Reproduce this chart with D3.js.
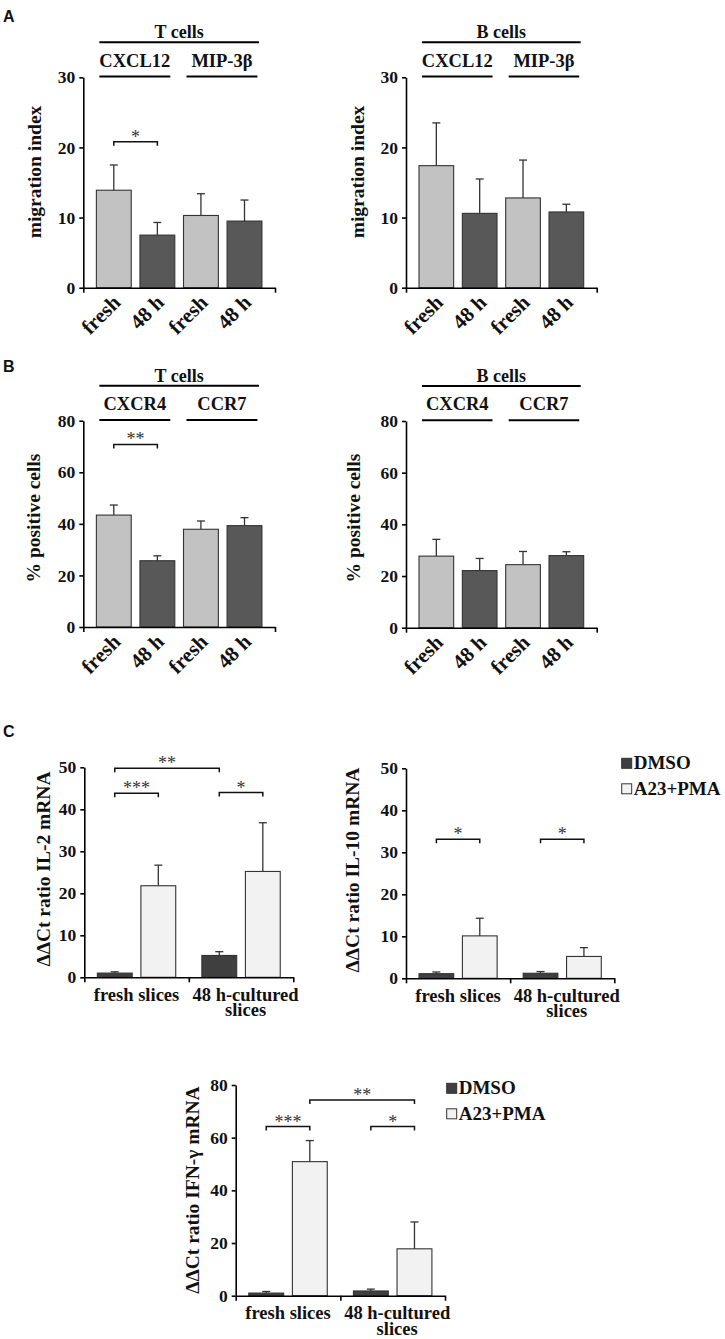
<!DOCTYPE html>
<html>
<head>
<meta charset="utf-8">
<script src="https://cdn.jsdelivr.net/npm/d3@7"></script>
<style>
  body { margin: 0; background: #fff; }
  svg text { font-family: 'Liberation Serif', 'Times New Roman', serif; font-weight: bold; fill: #111; }
</style>
</head>
<body>
<svg id="fig" width="725" height="1339"></svg>
<script>
// ---- datos ----
const barLabels = ["fresh", "48 h", "fresh", "48 h"];
const barTones = ["light", "dark", "light", "dark"];

// A: migration index
const migrationTicks = [0, 10, 20, 30];
const migrationT = [13.9, 7.5, 10.3, 9.5];
const migrationTErr = [3.6, 1.8, 3.1, 3.0];
const migrationB = [17.4, 10.6, 12.8, 10.8];
const migrationBErr = [6.1, 4.9, 5.4, 1.1];
const chemokinesA = ["CXCL12", "MIP-3β"];

// B: % positive cells
const positiveTicks = [0, 20, 40, 60, 80];
const positiveT = [43.4, 25.7, 37.9, 39.3];
const positiveTErr = [3.9, 1.9, 3.2, 3.1];
const positiveB = [27.7, 22.1, 24.4, 27.9];
const positiveBErr = [6.5, 4.7, 5.1, 1.5];
const receptorsB = ["CXCR4", "CCR7"];

// C: mRNA
const sliceGroups = [["fresh slices"], ["48 h-cultured", "slices"]];
const treatments = ["DMSO", "A23+PMA"];
const il2Ticks = [0, 10, 20, 30, 40, 50];
const il2Dmso = [1.0, 5.2];
const il2DmsoErr = [0.3, 0.9];
const il2A23 = [21.8, 25.2];
const il2A23Err = [4.9, 11.6];
const il10Dmso = [1.1, 1.2];
const il10DmsoErr = [0.4, 0.4];
const il10A23 = [10.1, 5.2];
const il10A23Err = [4.2, 2.1];
const ifnTicks = [0, 20, 40, 60, 80];
const ifnDmso = [1.0, 1.8];
const ifnDmsoErr = [0.6, 0.7];
const ifnA23 = [50.9, 17.8];
const ifnA23Err = [8.0, 10.2];

// significancia: [barra desde, barra hasta, valor y, etiqueta]
const sigMigT = [[0, 1, 20.8, "*"]];
const sigPosT = [[0, 1, 70.8, "**"]];
const sigIl2 = [[0, 2, 49.8, "**"], [0, 1, 43.8, "***"], [2, 3, 44.0, "*"]];
const sigIl10 = [[0, 1, 33.1, "*"], [2, 3, 33.1, "*"]];
const sigIfn = [[1, 3, 74.3, "**"], [0, 1, 64.2, "***"], [2, 3, 64.2, "*"]];

const tones = { light: "#c2c2c2", dark: "#585858", dmso: "#3f3f3f", a23: "#f2f2f2" };

const svg = d3.select("#fig");

// letras de panel
[["A", 3, 21.5], ["B", 3, 372], ["C", 3, 737]].forEach(([t, x, y]) => {
  svg.append("text").attr("x", x).attr("y", y)
    .style("font-family", "'Liberation Sans', Arial, sans-serif")
    .style("font-size", "16px").text(t);
});

function drawAxes(g, y, ticks, x0, x1, y0, nDiv) {
  const yAxis = g.append("g")
    .attr("transform", `translate(${x0},0)`)
    .call(d3.axisLeft(y).tickValues(ticks).tickSize(4).tickSizeOuter(0).tickPadding(4));
  yAxis.selectAll("text").style("font-size", "17.5px");

  const xb = d3.scaleLinear().domain([0, nDiv]).range([x0, x1]);
  g.append("g")
    .attr("transform", `translate(0,${y0})`)
    .call(d3.axisBottom(xb).tickValues(nDiv === 2 ? [0, 1, 2] : [0, nDiv]).tickFormat("").tickSize(5).tickSizeOuter(0));

  g.selectAll(".domain, .tick line").attr("stroke", "#000").attr("stroke-width", 1.6);
}

function drawErrors(g, items) {
  // items: {cx, top, err}
  const e = g.append("g").attr("stroke", "#333").attr("stroke-width", 1.3);
  items.forEach(d => {
    e.append("line").attr("x1", d.cx).attr("x2", d.cx).attr("y1", d.top).attr("y2", d.err);
    e.append("line").attr("x1", d.cx - 4).attr("x2", d.cx + 4).attr("y1", d.err).attr("y2", d.err);
  });
}

function drawSig(g, sigs, centers, y) {
  sigs.forEach(([a, b, v, lab]) => {
    const yy = y(v);
    g.append("path")
      .attr("d", `M${centers[a]},${yy + 4}V${yy}H${centers[b]}V${yy + 4}`)
      .attr("fill", "none").attr("stroke", "#111").attr("stroke-width", 1.5);
    g.append("text")
      .attr("x", (centers[a] + centers[b]) / 2).attr("y", yy + 1)
      .attr("text-anchor", "middle")
      .style("font-size", "18px").style("font-weight", "normal").style("fill", "#333")
      .text(lab);
  });
}

function yTitle(g, text, cx, cy) {
  g.append("text")
    .attr("transform", `translate(${cx},${cy}) rotate(-90)`)
    .attr("text-anchor", "middle").attr("dominant-baseline", "central")
    .style("font-size", "19.5px")
    .text(text);
}

// ---- paneles A y B ----
function drawCellPanel(cfg) {
  const g = svg.append("g");
  const y = d3.scaleLinear().domain([0, d3.max(cfg.ticks)]).range([cfg.y0, cfg.yTop]);
  const x = d3.scaleBand().domain(d3.range(cfg.values.length))
    .range([cfg.x0, cfg.x1]).paddingInner(0.2).paddingOuter(0.3);
  const centers = cfg.values.map((v, i) => x(i) + x.bandwidth() / 2);

  g.selectAll(".bar").data(cfg.values).enter().append("rect")
    .attr("x", (d, i) => x(i))
    .attr("y", d => y(d))
    .attr("width", x.bandwidth())
    .attr("height", d => cfg.y0 - y(d))
    .attr("fill", (d, i) => tones[barTones[i]])
    .attr("stroke", "#333").attr("stroke-width", 1.1);

  drawErrors(g, cfg.values.map((v, i) => ({ cx: centers[i], top: y(v), err: y(v + cfg.errors[i]) })));
  drawAxes(g, y, cfg.ticks, cfg.x0, cfg.x1, cfg.y0, 4);

  // etiquetas rotadas
  barLabels.forEach((lab, i) => {
    g.append("text")
      .attr("transform", `translate(${centers[i] + 8},${cfg.y0 + 16}) rotate(-45)`)
      .attr("text-anchor", "end")
      .style("font-size", "21px")
      .text(lab);
  });

  // cabeceras
  const left = x(0) + 3, right = x(3) + x.bandwidth() - 3;
  g.append("line").attr("x1", left).attr("x2", right)
    .attr("y1", cfg.yTop - 35).attr("y2", cfg.yTop - 35)
    .attr("stroke", "#000").attr("stroke-width", 2);
  g.append("text").attr("x", (left + right) / 2).attr("y", cfg.yTop - 39)
    .attr("text-anchor", "middle").style("font-size", "18px").text(cfg.group);
  cfg.subgroups.forEach((s, k) => {
    const l = x(2 * k) + 3, r = x(2 * k + 1) + x.bandwidth() - 4.5;
    g.append("line").attr("x1", l).attr("x2", r)
      .attr("y1", cfg.yTop - 0.7).attr("y2", cfg.yTop - 0.7)
      .attr("stroke", "#000").attr("stroke-width", 2);
    g.append("text").attr("x", (l + r) / 2).attr("y", cfg.yTop - 10.6)
      .attr("text-anchor", "middle").style("font-size", "18.5px").text(s);
  });

  if (cfg.sig) drawSig(g, cfg.sig, centers, y);
  yTitle(g, cfg.title, cfg.titleX, cfg.titleY);
}

drawCellPanel({ x0: 83.3, x1: 275, yTop: 77.3, y0: 287.7, ticks: migrationTicks,
  values: migrationT, errors: migrationTErr, group: "T cells", subgroups: chemokinesA,
  sig: sigMigT, title: "migration index", titleX: 34, titleY: 172 });
drawCellPanel({ x0: 406, x1: 596.7, yTop: 77.3, y0: 287.7, ticks: migrationTicks,
  values: migrationB, errors: migrationBErr, group: "B cells", subgroups: chemokinesA,
  title: "migration index", titleX: 357, titleY: 172 });
drawCellPanel({ x0: 83.3, x1: 275, yTop: 420.7, y0: 627, ticks: positiveTicks,
  values: positiveT, errors: positiveTErr, group: "T cells", subgroups: receptorsB,
  sig: sigPosT, title: "% positive cells", titleX: 33, titleY: 518 });
drawCellPanel({ x0: 406, x1: 596.7, yTop: 421, y0: 627.7, ticks: positiveTicks,
  values: positiveB, errors: positiveBErr, group: "B cells", subgroups: receptorsB,
  title: "% positive cells", titleX: 353, titleY: 518 });

// ---- panel C ----
function drawMrnaPanel(cfg) {
  const g = svg.append("g");
  const y = d3.scaleLinear().domain([0, d3.max(cfg.ticks)]).range([cfg.y0, cfg.yTop]);
  const x0 = d3.scaleBand().domain(d3.range(sliceGroups.length)).range([cfg.x0, cfg.x1]);
  const x1 = d3.scaleBand().domain(treatments).range([0, x0.bandwidth()])
    .paddingInner(0.2).paddingOuter(0.3);

  const rows = [];
  sliceGroups.forEach((sg, gi) => {
    rows.push({ gi, t: "DMSO", v: cfg.dmso[gi], e: cfg.dmsoErr[gi], fill: tones.dmso });
    rows.push({ gi, t: "A23+PMA", v: cfg.a23[gi], e: cfg.a23Err[gi], fill: tones.a23 });
  });
  const cx = d => x0(d.gi) + x1(d.t) + x1.bandwidth() / 2;
  const centers = rows.map(cx);

  g.selectAll(".bar").data(rows).enter().append("rect")
    .attr("x", d => x0(d.gi) + x1(d.t))
    .attr("y", d => y(d.v))
    .attr("width", x1.bandwidth())
    .attr("height", d => cfg.y0 - y(d.v))
    .attr("fill", d => d.fill)
    .attr("stroke", "#333").attr("stroke-width", 1.1);

  drawErrors(g, rows.map(d => ({ cx: cx(d), top: y(d.v), err: y(d.v + d.e) })));
  drawAxes(g, y, cfg.ticks, cfg.x0, cfg.x1, cfg.y0, 2);

  // etiquetas de grupo (la de dos lineas va algo corrida a la derecha)
  sliceGroups.forEach((lines, gi) => {
    const mx = x0(gi) + x0.bandwidth() / 2 + (lines.length > 1 ? 4.5 : 0);
    const t = g.append("text")
      .attr("x", mx).attr("y", cfg.y0 + 23.5)
      .attr("text-anchor", "middle").style("font-size", "18.5px");
    lines.forEach((ln, k) => {
      t.append("tspan").attr("x", mx)
        .attr("dy", k === 0 ? 0 : 15.5).text(ln);
    });
  });

  drawSig(g, cfg.sig, centers, y);
  yTitle(g, cfg.title, cfg.titleX, cfg.titleY);

  if (cfg.legend) {
    const lg = g.append("g").attr("transform", `translate(${cfg.legend[0]},${cfg.legend[1]})`);
    treatments.forEach((t, i) => {
      lg.append("rect").attr("x", 0).attr("y", i * 25.5).attr("width", 10).attr("height", 10)
        .attr("fill", i === 0 ? tones.dmso : tones.a23).attr("stroke", "#333").attr("stroke-width", 1);
      lg.append("text").attr("x", 12).attr("y", i * 25.5 + 11)
        .style("font-size", "19px").text(t);
    });
  }
}

drawMrnaPanel({ x0: 84.3, x1: 293.3, yTop: 767.3, y0: 977.3, ticks: il2Ticks,
  dmso: il2Dmso, dmsoErr: il2DmsoErr, a23: il2A23, a23Err: il2A23Err, sig: sigIl2,
  title: "ΔΔCt ratio IL-2 mRNA", titleX: 43, titleY: 869 });
drawMrnaPanel({ x0: 406, x1: 614.3, yTop: 768.3, y0: 978.3, ticks: il2Ticks,
  dmso: il10Dmso, dmsoErr: il10DmsoErr, a23: il10A23, a23Err: il10A23Err, sig: sigIl10,
  title: "ΔΔCt ratio IL-10 mRNA", titleX: 352, titleY: 870, legend: [621.7, 758.3] });
drawMrnaPanel({ x0: 235.7, x1: 445, yTop: 1085, y0: 1295.7, ticks: ifnTicks,
  dmso: ifnDmso, dmsoErr: ifnDmsoErr, a23: ifnA23, a23Err: ifnA23Err, sig: sigIfn,
  title: "ΔΔCt ratio IFN-γ mRNA", titleX: 192, titleY: 1190, legend: [446.7, 1083.3] });
</script>
</body>
</html>
